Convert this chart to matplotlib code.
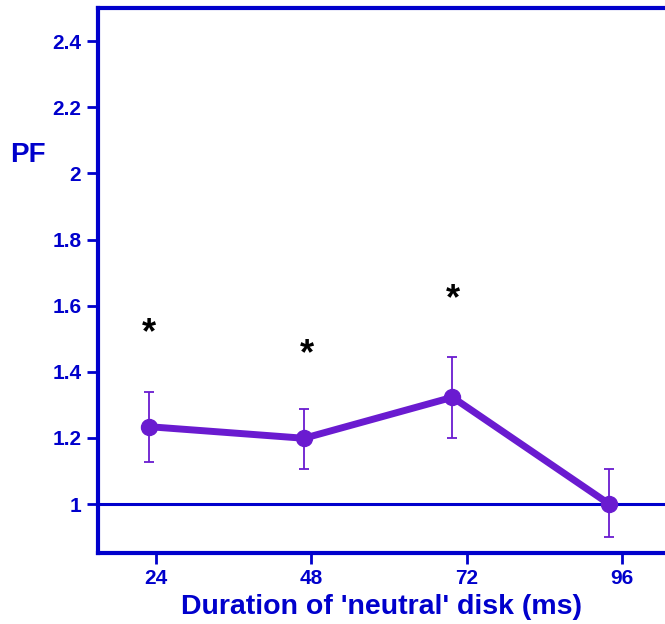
import matplotlib
matplotlib.use("Agg")
import matplotlib.pyplot as plt
from matplotlib.ticker import FixedLocator, FuncFormatter

# data
durations = [23.0, 46.9, 69.8, 94.0]      # ms
pf = [1.234, 1.199, 1.323, 1.0]
err_hi = [1.338, 1.289, 1.445, 1.106]
err_lo = [1.126, 1.106, 1.199, 0.899]
star_x = [23.0, 47.3, 69.8]
star_y = [1.514, 1.451, 1.617]
xticks = [24, 48, 72, 96]
yticks = [1, 1.2, 1.4, 1.6, 1.8, 2, 2.2, 2.4]

blue = "#0000CC"
purple = "#6A1BD0"
plt.rcParams["font.family"] = ["Liberation Sans", "DejaVu Sans"]

fig = plt.figure(figsize=(6.65, 6.24), dpi=100)
ax = fig.add_axes([98/665, 1 - 552.7/624, 1 - 98/665, (552.7 - 8)/624])

yerr = [[p - l for p, l in zip(pf, err_lo)], [h - p for p, h in zip(pf, err_hi)]]
ax.axhline(1.0, color=blue, lw=2.2, zorder=1)
ax.errorbar(durations, pf, yerr=yerr, fmt="none", ecolor=purple, elinewidth=1.3,
            capsize=3.5, capthick=1.3, zorder=2)
ax.plot(durations, pf, color=purple, lw=5, marker="o", markersize=11.5,
        markerfacecolor=purple, markeredgecolor=purple, zorder=3, solid_capstyle="round")
for sx, sy in zip(star_x, star_y):
    ax.text(sx, sy, "*", ha="center", va="center", fontsize=26, fontweight="bold", color="black")

ax.set_xlim(15.1, 102.6)
ax.set_ylim(0.853, 2.5)
ax.xaxis.set_major_locator(FixedLocator(xticks))
ax.yaxis.set_major_locator(FixedLocator(yticks))
ax.yaxis.set_major_formatter(FuncFormatter(lambda v, p: f"{v:g}"))

for side in ["left", "bottom", "top"]:
    ax.spines[side].set_color(blue)
    ax.spines[side].set_linewidth(3)
ax.spines["right"].set_visible(False)

ax.tick_params(axis="both", direction="out", length=8, width=2, color=blue,
               labelcolor=blue, labelsize=15, pad=4)
for lab in ax.get_xticklabels() + ax.get_yticklabels():
    lab.set_fontweight("bold")

ax.set_xlabel("Duration of 'neutral' disk (ms)", fontsize=20.5, fontweight="bold",
              color=blue, labelpad=4)
fig.text(28/665, 1 - 155/624, "PF", fontsize=20, fontweight="bold", color=blue,
         ha="center", va="center")

fig.savefig("out.png", dpi=100)
